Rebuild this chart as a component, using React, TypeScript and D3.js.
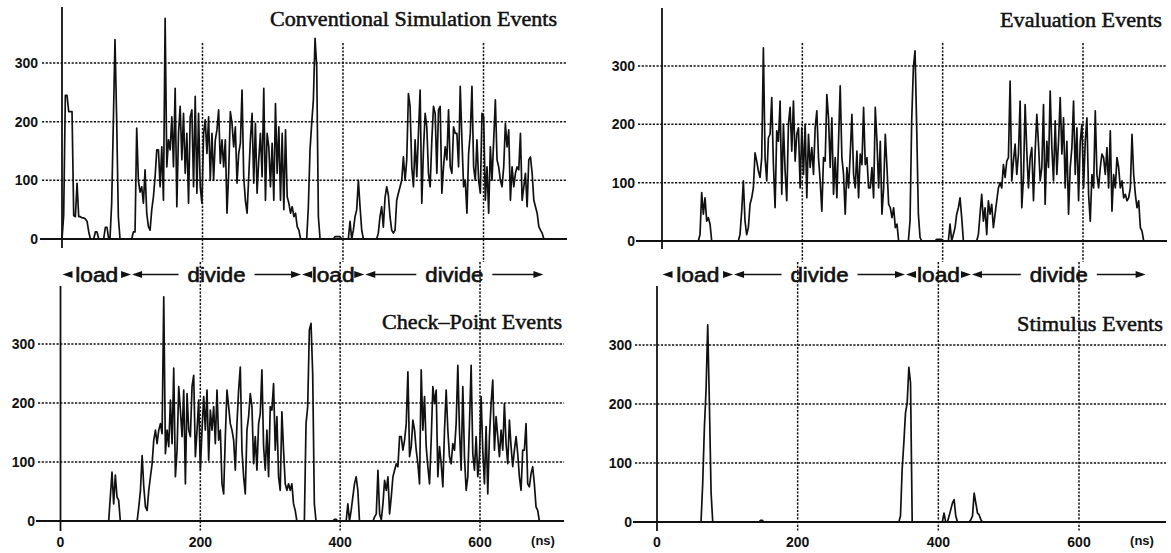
import { useEffect, useRef } from "react";
import * as d3 from "d3";

// each burst: start time (ns) and readings taken every STEP ns
interface Burst {
  t0: number;
  v: number[];
}

const STEP = 2.38;

const yTicks = [0, 100, 200, 300];
const xTicks = [0, 200, 400, 600];

const phaseLabels = ["load", "divide", "load", "divide"];
const leftPhases = [0, 99, 341, 431, 686];
const rightPhases = [0, 102, 347, 441, 690];

const conventional: Burst[] = [
  { t0: 0, v: [0, 40, 245, 245, 217, 217, 217, 40, 38, 95, 38, 38, 36, 36, 34, 30, 12, 0] },
  { t0: 45.1, v: [0, 12, 12, 0] },
  { t0: 59.3, v: [0, 20, 20, 0] },
  { t0: 68.3, v: [0, 60, 197, 340, 203, 38, 0] },
  {
    t0: 99.2,
    v: [
      0, 12, 12, 189, 100, 80, 89, 61, 118, 44,
      21, 15, 50, 72, 106, 152, 152, 89, 157, 66,
      376, 123, 169, 152, 208, 123, 257, 55, 180, 226,
      135, 214, 112, 180, 61, 208, 220, 89, 243, 78,
      214, 89, 61, 180, 203, 146, 208, 100, 180, 100,
      169, 186, 220, 129, 169, 123, 169, 44, 112, 217,
      197, 157, 191, 95, 146, 163, 254, 106, 66, 44,
      106, 169, 214, 95, 197, 78, 135, 180, 106, 257,
      66, 180, 157, 89, 163, 66, 231, 112, 191, 66,
      180, 50, 186, 72, 61, 44, 55, 38, 44, 21,
      15, 0,
    ],
  },
  { t0: 348.3, v: [0, 55, 152, 197, 237, 342, 294, 38, 0] },
  { t0: 386.2, v: [0, 4, 4, 4, 4, 0] },
  { t0: 407.6, v: [0, 30, 0, 15, 38, 50, 100, 55, 15, 0] },
  {
    t0: 447.9,
    v: [
      0, 10,
      38, 55, 20, 70, 89, 75, 38, 15, 10, 15,
      66, 78, 89, 100, 140, 100, 135, 248, 226, 123,
      89, 169, 106, 180, 254, 61, 152, 214, 191, 112,
      89, 169, 226, 214, 112, 220, 226, 78, 123, 157,
      135, 220, 123, 112, 191, 180, 180, 123, 260, 169,
      89, 100, 44, 146, 180, 260, 123, 100, 169, 100,
      78, 214, 208, 66, 123, 44, 157, 100, 169, 237,
      135, 123, 100, 89, 123, 197, 157, 186, 66, 123,
      89, 112, 123, 118, 180, 66, 89, 112, 55, 135,
      140, 112, 66, 55, 44, 21, 15, 10, 0,
    ],
  },
];

const evaluation: Burst[] = [
  { t0: 51.8, v: [0, 11, 83, 46, 74, 34, 40, 29, 0] },
  {
    t0: 108.8,
    v: [
      0, 11, 51, 103, 34, 11, 23, 63, 74, 91,
      151, 137, 120, 109, 143, 331, 143, 103, 177, 183,
      246, 131, 57, 189, 171, 240, 80, 200, 120, 69,
      200, 229, 154, 240, 137, 183, 194, 91, 194, 114,
      200, 74, 183, 126, 160, 114, 194, 223, 143, 103,
      51, 143, 137, 251, 211, 126, 211, 80, 143, 74,
      171, 266, 143, 114, 46, 126, 91, 149, 217, 114,
      91, 154, 74, 149, 131, 229, 131, 143, 91, 91,
      126, 74, 229, 171, 91, 171, 46, 91, 183, 126,
      63, 57, 40, 57, 23, 29, 0,
    ],
  },
  { t0: 351.1, v: [0, 34, 206, 297, 326, 194, 46, 6, 0] },
  { t0: 389, v: [0, 3, 3, 3, 3, 0] },
  { t0: 408.1, v: [0, 29, 0, 11, 23, 46, 57, 74, 40, 0] },
  {
    t0: 448.5,
    v: [
      0, 11, 46, 80, 34, 57, 11, 69, 46, 63,
      23, 46, 69, 91, 100, 91, 131, 109, 137, 143,
      274, 103, 137, 166, 114, 149, 240, 57, 109, 234,
      154, 91, 143, 160, 69, 154, 217, 166, 103, 126,
      234, 63, 171, 126, 257, 160, 103, 206, 114, 171,
      246, 149, 211, 91, 171, 46, 126, 160, 240, 114,
      194, 69, 171, 200, 91, 171, 211, 80, 34, 114,
      91, 223, 114, 91, 126, 149, 143, 114, 160, 91,
      189, 51, 114, 91, 143, 126, 91, 103, 74, 80,
      69, 74, 91, 183, 114, 80, 57, 69, 23, 17,
      0,
    ],
  },
];

const checkPoint: Burst[] = [
  { t0: 68.9, v: [0, 41, 83, 29, 78, 41, 35, 0] },
  {
    t0: 109.6,
    v: [
      0, 24, 52, 111, 58, 24, 18, 52, 75, 97,
      137, 154, 131, 154, 165, 148, 380, 114, 154, 126,
      205, 131, 259, 75, 120, 228, 188, 143, 222, 63,
      216, 154, 143, 228, 247, 109, 154, 205, 86, 154,
      211, 154, 222, 103, 188, 154, 194, 131, 222, 137,
      154, 63, 46, 143, 222, 194, 165, 154, 137, 86,
      165, 222, 261, 120, 75, 46, 154, 177, 216, 194,
      97, 143, 86, 165, 182, 256, 126, 86, 154, 75,
      194, 188, 233, 120, 177, 75, 52, 185, 120, 63,
      52, 63, 52, 63, 29, 18, 0,
    ],
  },
  { t0: 348.8, v: [0, 165, 194, 324, 335, 250, 29, 0] },
  { t0: 389.5, v: [0, 3, 3, 0] },
  { t0: 408.6, v: [0, 29, 0, 18, 41, 63, 75, 52, 0] },
  {
    t0: 446.9,
    v: [
      0, 7, 12, 86, 12, 2, 29, 69, 52, 75, 12, 41, 75, 86, 97, 92, 143,
      143, 120, 137, 165, 253, 109, 126, 171, 154, 120,
      97, 63, 256, 154, 211, 126, 92, 63, 137, 228,
      199, 222, 75, 126, 97, 58, 154, 222, 154, 109,
      97, 131, 120, 165, 264, 154, 86, 228, 109, 52,
      75, 165, 264, 114, 86, 143, 75, 109, 211, 120,
      63, 160, 46, 143, 199, 239, 120, 177, 143, 109,
      154, 120, 199, 131, 97, 171, 126, 92, 120, 143,
      114, 75, 52, 120, 120, 165, 63, 58, 80, 92,
      63, 24, 18, 0,
    ],
  },
];

const stimulus: Burst[] = [
  { t0: 62.6, v: [0, 65, 160, 224, 334, 200, 50, 0] },
  { t0: 144.9, v: [0, 3, 3, 0] },
  { t0: 343.8, v: [0, 10, 89, 134, 185, 202, 262, 236, 0] },
  { t0: 405.7, v: [0, 15, 0] },
  { t0: 412.9, v: [0, 10, 21, 32, 38, 10, 0] },
  { t0: 443.8, v: [0, 4, 10, 49, 32, 15, 12, 4, 0] },
];

const panels = [
  {
    title: "Conventional Simulation Events",
    data: conventional,
    xRange: [62, 483.5],
    yRange: [239, 63],
    grid: [42, 567],
    axis: [7, 248],
    vgrid: [43, 262],
    titleBox: [270, 557, 26],
    xLabels: false,
    labelEnd: 38,
  },
  {
    title: "Evaluation Events",
    data: evaluation,
    xRange: [662, 1083],
    yRange: [241, 66],
    grid: [638, 1167],
    axis: [8, 249],
    vgrid: [43, 262],
    titleBox: [1000, 1162, 27],
    xLabels: false,
    labelEnd: 635,
  },
  {
    title: "Check\u2013Point Events",
    data: checkPoint,
    xRange: [60.5, 480],
    yRange: [521, 344],
    grid: [38, 564],
    axis: [286, 531],
    vgrid: [262, 531],
    titleBox: [382, 562, 329],
    xLabels: true,
    labelEnd: 35,
  },
  {
    title: "Stimulus Events",
    data: stimulus,
    xRange: [657, 1079],
    yRange: [522, 345],
    grid: [635, 1166],
    axis: [286, 531],
    vgrid: [262, 531],
    titleBox: [1017, 1163, 331],
    xLabels: true,
    labelEnd: 632,
  },
];

const INK = "#111";

function seriesPoints(bursts: Burst[]): [number, number][] {
  const pts: [number, number][] = [[0, 0]];
  bursts.forEach((b) => b.v.forEach((v, i) => pts.push([b.t0 + i * STEP, v])));
  return pts;
}

export default function App() {
  const svgRef = useRef<SVGSVGElement>(null);

  useEffect(() => {
    if (!svgRef.current) return;
    const svg = d3.select(svgRef.current);
    svg.selectAll("*").remove();

    svg.append("rect").attr("width", 1171).attr("height", 553).attr("fill", "#fff");

    panels.forEach((p) => {
      const x = d3.scaleLinear().domain([0, 600]).range(p.xRange);
      const y = d3.scaleLinear().domain([0, 300]).range(p.yRange);
      const g = svg.append("g");

      // horizontal dotted grid
      g.selectAll("line.h")
        .data(yTicks.filter((d) => d > 0))
        .join("line")
        .attr("class", "h")
        .attr("x1", p.grid[0])
        .attr("x2", p.grid[1])
        .attr("y1", (d) => y(d))
        .attr("y2", (d) => y(d))
        .attr("stroke", INK)
        .attr("stroke-width", 1.5)
        .attr("stroke-dasharray", "2.2,1.5");

      // vertical dotted grid
      g.selectAll("line.v")
        .data(xTicks.filter((d) => d > 0))
        .join("line")
        .attr("class", "v")
        .attr("x1", (d) => x(d))
        .attr("x2", (d) => x(d))
        .attr("y1", p.vgrid[0])
        .attr("y2", p.vgrid[1])
        .attr("stroke", INK)
        .attr("stroke-width", 1.5)
        .attr("stroke-dasharray", "2.2,1.5");

      // baseline and y axis
      g.append("line")
        .attr("x1", p.grid[0] - 2)
        .attr("x2", p.grid[1])
        .attr("y1", y(0))
        .attr("y2", y(0))
        .attr("stroke", INK)
        .attr("stroke-width", 2.2);

      g.append("line")
        .attr("x1", x(0))
        .attr("x2", x(0))
        .attr("y1", p.axis[0])
        .attr("y2", p.axis[1])
        .attr("stroke", INK)
        .attr("stroke-width", 1.8);

      // y tick labels
      g.selectAll("text.y")
        .data(yTicks)
        .join("text")
        .attr("class", "y")
        .attr("x", p.labelEnd)
        .attr("y", (d) => y(d))
        .attr("dy", "0.36em")
        .attr("text-anchor", "end")
        .style("font-family", "'Liberation Sans', Arial, sans-serif")
        .style("font-weight", "bold")
        .style("font-size", "14px")
        .style("fill", INK)
        .text((d) => d);

      if (p.xLabels) {
        g.selectAll("text.x")
          .data(xTicks)
          .join("text")
          .attr("class", "x")
          .attr("x", (d) => x(d))
          .attr("y", 547)
          .attr("text-anchor", "middle")
          .style("font-family", "'Liberation Sans', Arial, sans-serif")
          .style("font-weight", "bold")
          .style("font-size", "14px")
          .style("fill", INK)
          .text((d) => d);

        g.append("text")
          .attr("x", x(600) + 63)
          .attr("y", 545)
          .attr("text-anchor", "middle")
          .style("font-family", "'Liberation Sans', Arial, sans-serif")
          .style("font-weight", "bold")
          .style("font-size", "13px")
          .style("fill", INK)
          .text("(ns)");
      }

      // data trace
      const line = d3
        .line<[number, number]>()
        .x((d) => x(d[0]))
        .y((d) => y(d[1]));

      g.append("path")
        .datum(seriesPoints(p.data))
        .attr("fill", "none")
        .attr("stroke", INK)
        .attr("stroke-width", 1.7)
        .attr("stroke-linejoin", "round")
        .attr("d", line);

      // title
      g.append("text")
        .attr("x", p.titleBox[0])
        .attr("y", p.titleBox[2])
        .attr("textLength", p.titleBox[1] - p.titleBox[0])
        .attr("lengthAdjust", "spacingAndGlyphs")
        .style("font-family", "'Liberation Serif', 'Times New Roman', serif")
        .style("font-size", "21px")
        .style("fill", INK)
        .style("stroke", INK)
        .style("stroke-width", 0.5)
        .text(p.title);
    });

    // load / divide phase row between the top and bottom panels
    const rows = [
      { range: panels[0].xRange, bounds: leftPhases },
      { range: panels[1].xRange, bounds: rightPhases },
    ];
    const wordWidth: Record<string, number> = { load: 43, divide: 58 };
    const midY = 274.5;
    rows.forEach((r) => {
      const x = d3.scaleLinear().domain([0, 600]).range(r.range);
      const row = svg.append("g");
      phaseLabels.forEach((lab, i) => {
        const x1 = x(r.bounds[i]);
        const x2 = x(r.bounds[i + 1]);
        const cx = (x1 + x2) / 2;
        const w = wordWidth[lab];
        const head = 10;
        row.append("text")
          .attr("x", cx - w / 2)
          .attr("y", 282)
          .attr("textLength", w)
          .attr("lengthAdjust", "spacingAndGlyphs")
          .style("font-family", "'Liberation Sans', Arial, sans-serif")
          .style("font-size", "20px")
          .style("fill", INK)
          .style("stroke", INK)
          .style("stroke-width", 0.6)
          .text(lab);
        row.append("path")
          .attr("d", `M${x1 + 0.5},${midY} l${head},-3.5 l0,7 z`)
          .attr("fill", INK);
        row.append("path")
          .attr("d", `M${x2 - 0.5},${midY} l${-head},-3.5 l0,7 z`)
          .attr("fill", INK);
        const l1 = cx - w / 2 - 9;
        const l2 = cx + w / 2 + 9;
        if (l1 > x1 + head + 2) {
          row.append("line")
            .attr("x1", x1 + head)
            .attr("x2", l1)
            .attr("y1", midY)
            .attr("y2", midY)
            .attr("stroke", INK)
            .attr("stroke-width", 1.7);
        }
        if (x2 - head - 2 > l2) {
          row.append("line")
            .attr("x1", l2)
            .attr("x2", x2 - head)
            .attr("y1", midY)
            .attr("y2", midY)
            .attr("stroke", INK)
            .attr("stroke-width", 1.7);
        }
      });
    });
  }, []);

  return (
    <svg
      ref={svgRef}
      width={1171}
      height={553}
      style={{ position: "absolute", left: 0, top: 0 }}
    ></svg>
  );
}
